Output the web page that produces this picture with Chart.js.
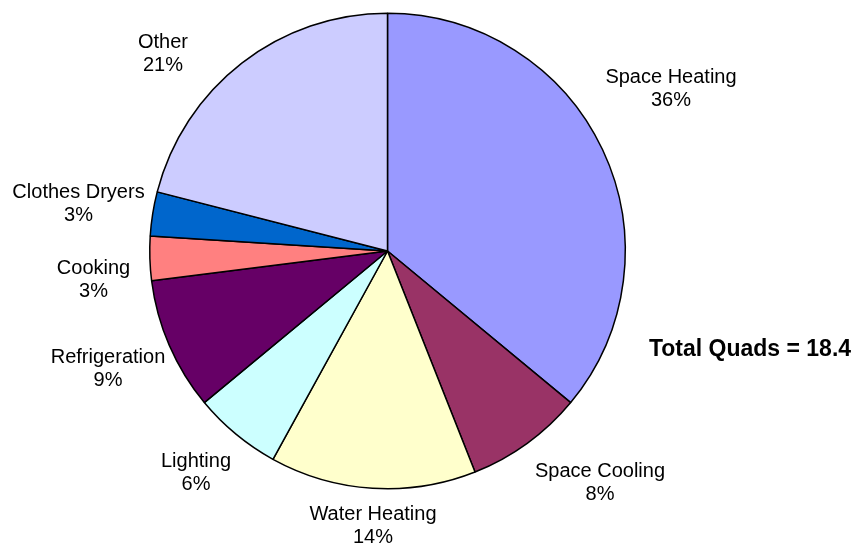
<!DOCTYPE html>
<html>
<head>
<meta charset="utf-8">
<script src="https://cdn.jsdelivr.net/npm/chart.js@4/dist/chart.umd.min.js"></script>
<style>
  html, body { margin: 0; padding: 0; background: #ffffff; }
  #wrap { width: 856px; height: 548px; position: relative; }
</style>
</head>
<body>
<div id="wrap"><canvas id="c" width="856" height="548"></canvas></div>
<script>
// ---- data ----
const categories = ["Space Heating", "Space Cooling", "Water Heating", "Lighting", "Refrigeration", "Cooking", "Clothes Dryers", "Other"];
const shares = [36, 8, 14, 6, 9, 3, 3, 21];
const totalNote = "Total Quads = 18.4";

// ---- styles ----
const sliceColors = ["#9999FF", "#993366", "#FFFFCC", "#CCFFFF", "#660066", "#FF8080", "#0066CC", "#CCCCFF"];
// label block centre offsets from the pie centre (px)
const labelOffsets = [[283.5, -162], [212.5, 231.5], [-14.5, 274.5], [-191.5, 222], [-279.5, 117.5], [-294, 28.5], [-309, -47.5], [-224.5, -197.5]];

const labelPlugin = {
  id: "sliceLabels",
  afterDatasetsDraw(chart) {
    const ctx = chart.ctx;
    const arc = chart.getDatasetMeta(0).data[0];
    const cx = arc.x, cy = arc.y;
    ctx.save();
    ctx.fillStyle = "#000";
    ctx.textAlign = "center";
    ctx.textBaseline = "middle";
    ctx.font = "20px 'Liberation Sans', Arial, sans-serif";
    chart.data.labels.forEach((lab, i) => {
      const [dx, dy] = labelOffsets[i];
      const x = cx + dx, y = cy + dy;
      ctx.fillText(lab, x, y - 11.5);
      ctx.fillText(chart.data.datasets[0].data[i] + "%", x, y + 11.5);
    });
    ctx.font = "bold 23px 'Liberation Sans', Arial, sans-serif";
    ctx.fillText(totalNote, 750, 350);
    ctx.restore();
  }
};

new Chart(document.getElementById("c"), {
  type: "pie",
  data: {
    labels: categories,
    datasets: [{
      data: shares,
      backgroundColor: sliceColors,
      borderColor: "#000000",
      borderWidth: 1.5
    }]
  },
  options: {
    responsive: false,
    animation: false,
    devicePixelRatio: 1,
    layout: { padding: { left: 149, right: 230, top: 12.5, bottom: 58.5 } },
    plugins: {
      legend: { display: false },
      tooltip: { enabled: false }
    }
  },
  plugins: [labelPlugin]
});
</script>
</body>
</html>
